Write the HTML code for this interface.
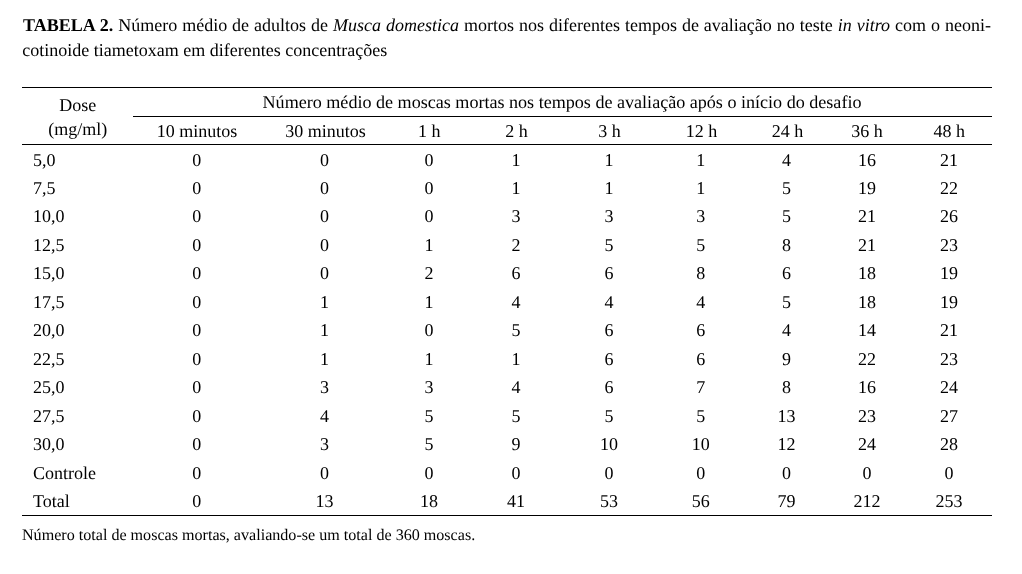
<!DOCTYPE html>
<html><head><meta charset="utf-8"><style>
html,body{margin:0;padding:0;background:#fff;width:1022px;height:574px;overflow:hidden;}
body{position:relative;will-change:transform;text-rendering:geometricPrecision;font-family:"Liberation Serif",serif;font-size:18px;line-height:18px;color:#000;}
.t,.c,.title{position:absolute;white-space:nowrap;}
.c{width:1000px;text-align:center;}
.title{text-align:justify;text-align-last:justify;white-space:normal;}
.fn{font-size:16.1px;line-height:16px;}
.ln{position:absolute;height:1px;background:#000;}
</style></head><body>
<div class="title" style="left:23px;top:15.7px;width:968px"><b>TABELA 2.</b> Número médio de adultos de <i>Musca domestica</i> mortos nos diferentes tempos de avaliação no teste <i>in vitro</i> com o neoni-</div>
<div class="t" style="left:22.3px;top:40.8px;">cotinoide tiametoxam em diferentes concentrações</div>
<div class="ln" style="left:22px;width:970px;top:87px"></div>
<div class="ln" style="left:133px;width:859px;top:116px"></div>
<div class="ln" style="left:22px;width:970px;top:144px"></div>
<div class="ln" style="left:22px;width:970px;top:515px"></div>
<div class="c" style="left:-422.3px;top:96.0px;">Dose</div>
<div class="c" style="left:-422.3px;top:119.6px;">(mg/ml)</div>
<div class="c" style="left:62.0px;top:93.1px;font-size:18.09px">Número médio de moscas mortas nos tempos de avaliação após o início do desafio</div>
<div class="c" style="left:-303.1px;top:122.1px;">10 minutos</div>
<div class="c" style="left:-174.5px;top:122.1px;">30 minutos</div>
<div class="c" style="left:-70.8px;top:122.1px;">1 h</div>
<div class="c" style="left:16.5px;top:122.1px;">2 h</div>
<div class="c" style="left:109.5px;top:122.1px;">3 h</div>
<div class="c" style="left:201.5px;top:122.1px;">12 h</div>
<div class="c" style="left:287.4px;top:122.1px;">24 h</div>
<div class="c" style="left:367.0px;top:122.1px;">36 h</div>
<div class="c" style="left:449.3px;top:122.1px;">48 h</div>
<div class="t" style="left:33.0px;top:151.0px;">5,0</div>
<div class="c" style="left:-303.2px;top:151.0px;">0</div>
<div class="c" style="left:-175.4px;top:151.0px;">0</div>
<div class="c" style="left:-70.9px;top:151.0px;">0</div>
<div class="c" style="left:15.9px;top:151.0px;">1</div>
<div class="c" style="left:108.9px;top:151.0px;">1</div>
<div class="c" style="left:200.8px;top:151.0px;">1</div>
<div class="c" style="left:286.4px;top:151.0px;">4</div>
<div class="c" style="left:366.9px;top:151.0px;">16</div>
<div class="c" style="left:449.0px;top:151.0px;">21</div>
<div class="t" style="left:33.0px;top:179.0px;">7,5</div>
<div class="c" style="left:-303.2px;top:179.0px;">0</div>
<div class="c" style="left:-175.4px;top:179.0px;">0</div>
<div class="c" style="left:-70.9px;top:179.0px;">0</div>
<div class="c" style="left:15.9px;top:179.0px;">1</div>
<div class="c" style="left:108.9px;top:179.0px;">1</div>
<div class="c" style="left:200.8px;top:179.0px;">1</div>
<div class="c" style="left:286.4px;top:179.0px;">5</div>
<div class="c" style="left:366.9px;top:179.0px;">19</div>
<div class="c" style="left:449.0px;top:179.0px;">22</div>
<div class="t" style="left:33.0px;top:207.0px;">10,0</div>
<div class="c" style="left:-303.2px;top:207.0px;">0</div>
<div class="c" style="left:-175.4px;top:207.0px;">0</div>
<div class="c" style="left:-70.9px;top:207.0px;">0</div>
<div class="c" style="left:15.9px;top:207.0px;">3</div>
<div class="c" style="left:108.9px;top:207.0px;">3</div>
<div class="c" style="left:200.8px;top:207.0px;">3</div>
<div class="c" style="left:286.4px;top:207.0px;">5</div>
<div class="c" style="left:366.9px;top:207.0px;">21</div>
<div class="c" style="left:449.0px;top:207.0px;">26</div>
<div class="t" style="left:33.0px;top:236.0px;">12,5</div>
<div class="c" style="left:-303.2px;top:236.0px;">0</div>
<div class="c" style="left:-175.4px;top:236.0px;">0</div>
<div class="c" style="left:-70.9px;top:236.0px;">1</div>
<div class="c" style="left:15.9px;top:236.0px;">2</div>
<div class="c" style="left:108.9px;top:236.0px;">5</div>
<div class="c" style="left:200.8px;top:236.0px;">5</div>
<div class="c" style="left:286.4px;top:236.0px;">8</div>
<div class="c" style="left:366.9px;top:236.0px;">21</div>
<div class="c" style="left:449.0px;top:236.0px;">23</div>
<div class="t" style="left:33.0px;top:264.0px;">15,0</div>
<div class="c" style="left:-303.2px;top:264.0px;">0</div>
<div class="c" style="left:-175.4px;top:264.0px;">0</div>
<div class="c" style="left:-70.9px;top:264.0px;">2</div>
<div class="c" style="left:15.9px;top:264.0px;">6</div>
<div class="c" style="left:108.9px;top:264.0px;">6</div>
<div class="c" style="left:200.8px;top:264.0px;">8</div>
<div class="c" style="left:286.4px;top:264.0px;">6</div>
<div class="c" style="left:366.9px;top:264.0px;">18</div>
<div class="c" style="left:449.0px;top:264.0px;">19</div>
<div class="t" style="left:33.0px;top:293.0px;">17,5</div>
<div class="c" style="left:-303.2px;top:293.0px;">0</div>
<div class="c" style="left:-175.4px;top:293.0px;">1</div>
<div class="c" style="left:-70.9px;top:293.0px;">1</div>
<div class="c" style="left:15.9px;top:293.0px;">4</div>
<div class="c" style="left:108.9px;top:293.0px;">4</div>
<div class="c" style="left:200.8px;top:293.0px;">4</div>
<div class="c" style="left:286.4px;top:293.0px;">5</div>
<div class="c" style="left:366.9px;top:293.0px;">18</div>
<div class="c" style="left:449.0px;top:293.0px;">19</div>
<div class="t" style="left:33.0px;top:321.0px;">20,0</div>
<div class="c" style="left:-303.2px;top:321.0px;">0</div>
<div class="c" style="left:-175.4px;top:321.0px;">1</div>
<div class="c" style="left:-70.9px;top:321.0px;">0</div>
<div class="c" style="left:15.9px;top:321.0px;">5</div>
<div class="c" style="left:108.9px;top:321.0px;">6</div>
<div class="c" style="left:200.8px;top:321.0px;">6</div>
<div class="c" style="left:286.4px;top:321.0px;">4</div>
<div class="c" style="left:366.9px;top:321.0px;">14</div>
<div class="c" style="left:449.0px;top:321.0px;">21</div>
<div class="t" style="left:33.0px;top:350.0px;">22,5</div>
<div class="c" style="left:-303.2px;top:350.0px;">0</div>
<div class="c" style="left:-175.4px;top:350.0px;">1</div>
<div class="c" style="left:-70.9px;top:350.0px;">1</div>
<div class="c" style="left:15.9px;top:350.0px;">1</div>
<div class="c" style="left:108.9px;top:350.0px;">6</div>
<div class="c" style="left:200.8px;top:350.0px;">6</div>
<div class="c" style="left:286.4px;top:350.0px;">9</div>
<div class="c" style="left:366.9px;top:350.0px;">22</div>
<div class="c" style="left:449.0px;top:350.0px;">23</div>
<div class="t" style="left:33.0px;top:378.0px;">25,0</div>
<div class="c" style="left:-303.2px;top:378.0px;">0</div>
<div class="c" style="left:-175.4px;top:378.0px;">3</div>
<div class="c" style="left:-70.9px;top:378.0px;">3</div>
<div class="c" style="left:15.9px;top:378.0px;">4</div>
<div class="c" style="left:108.9px;top:378.0px;">6</div>
<div class="c" style="left:200.8px;top:378.0px;">7</div>
<div class="c" style="left:286.4px;top:378.0px;">8</div>
<div class="c" style="left:366.9px;top:378.0px;">16</div>
<div class="c" style="left:449.0px;top:378.0px;">24</div>
<div class="t" style="left:33.0px;top:407.0px;">27,5</div>
<div class="c" style="left:-303.2px;top:407.0px;">0</div>
<div class="c" style="left:-175.4px;top:407.0px;">4</div>
<div class="c" style="left:-70.9px;top:407.0px;">5</div>
<div class="c" style="left:15.9px;top:407.0px;">5</div>
<div class="c" style="left:108.9px;top:407.0px;">5</div>
<div class="c" style="left:200.8px;top:407.0px;">5</div>
<div class="c" style="left:286.4px;top:407.0px;">13</div>
<div class="c" style="left:366.9px;top:407.0px;">23</div>
<div class="c" style="left:449.0px;top:407.0px;">27</div>
<div class="t" style="left:33.0px;top:435.0px;">30,0</div>
<div class="c" style="left:-303.2px;top:435.0px;">0</div>
<div class="c" style="left:-175.4px;top:435.0px;">3</div>
<div class="c" style="left:-70.9px;top:435.0px;">5</div>
<div class="c" style="left:15.9px;top:435.0px;">9</div>
<div class="c" style="left:108.9px;top:435.0px;">10</div>
<div class="c" style="left:200.8px;top:435.0px;">10</div>
<div class="c" style="left:286.4px;top:435.0px;">12</div>
<div class="c" style="left:366.9px;top:435.0px;">24</div>
<div class="c" style="left:449.0px;top:435.0px;">28</div>
<div class="t" style="left:33.0px;top:464.0px;">Controle</div>
<div class="c" style="left:-303.2px;top:464.0px;">0</div>
<div class="c" style="left:-175.4px;top:464.0px;">0</div>
<div class="c" style="left:-70.9px;top:464.0px;">0</div>
<div class="c" style="left:15.9px;top:464.0px;">0</div>
<div class="c" style="left:108.9px;top:464.0px;">0</div>
<div class="c" style="left:200.8px;top:464.0px;">0</div>
<div class="c" style="left:286.4px;top:464.0px;">0</div>
<div class="c" style="left:366.9px;top:464.0px;">0</div>
<div class="c" style="left:449.0px;top:464.0px;">0</div>
<div class="t" style="left:33.0px;top:492.0px;">Total</div>
<div class="c" style="left:-303.2px;top:492.0px;">0</div>
<div class="c" style="left:-175.4px;top:492.0px;">13</div>
<div class="c" style="left:-70.9px;top:492.0px;">18</div>
<div class="c" style="left:15.9px;top:492.0px;">41</div>
<div class="c" style="left:108.9px;top:492.0px;">53</div>
<div class="c" style="left:200.8px;top:492.0px;">56</div>
<div class="c" style="left:286.4px;top:492.0px;">79</div>
<div class="c" style="left:366.9px;top:492.0px;">212</div>
<div class="c" style="left:449.0px;top:492.0px;">253</div>
<div class="t fn" style="left:22px;top:527.5px">Número total de moscas mortas, avaliando-se um total de 360 moscas.</div>
</body></html>
